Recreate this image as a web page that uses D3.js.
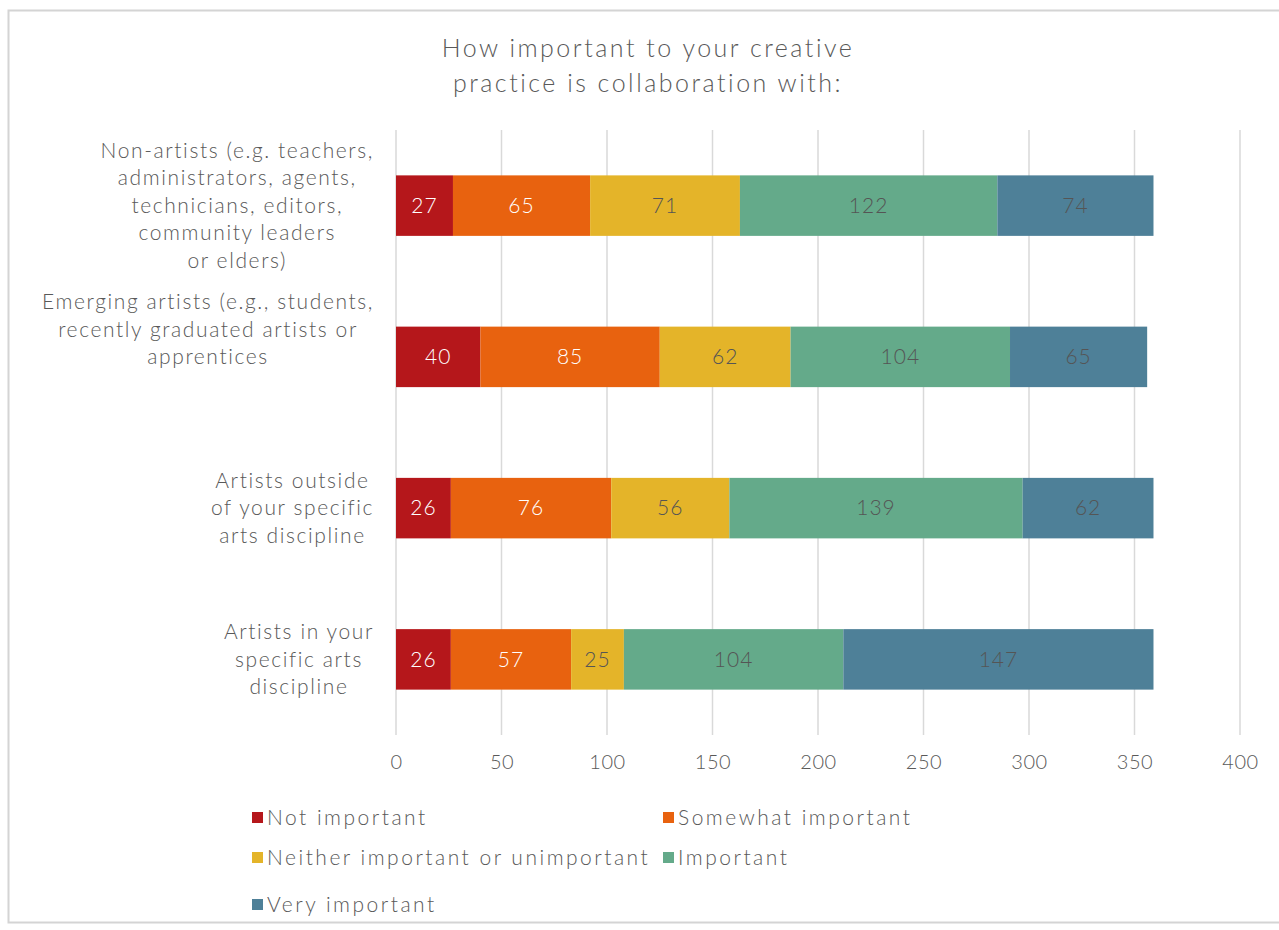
<!DOCTYPE html>
<meta charset="utf-8">
<style>
body { margin: 0; background: #fff; }
text { font-family: "Lato", "Open Sans", sans-serif; fill: #595959; }
.axis path, .axis line { stroke: none; }
</style>
<body>
<div id="chart"></div>
<script src="https://d3js.org/d3.v7.min.js"></script>
<script>
// data
var categories = ["Non-artists", "Emerging artists", "Artists outside", "Artists in your"];
var categoryLines = [
  ["Non-artists (e.g. teachers,", "administrators, agents,", "technicians, editors,", "community leaders", "or elders)"],
  ["Emerging artists (e.g., students,", "recently graduated artists or", "apprentices", "", ""],
  ["Artists outside", "of your specific", "arts discipline"],
  ["Artists in your", "specific arts", "discipline"]
];
var seriesNames = ["Not important", "Somewhat important", "Neither important or unimportant", "Important", "Very important"];
var notImportant      = [27, 40, 26, 26];
var somewhatImportant = [65, 85, 76, 57];
var neither           = [71, 62, 56, 25];
var important         = [122, 104, 139, 104];
var veryImportant     = [74, 65, 62, 147];
var xTicks = [0, 50, 100, 150, 200, 250, 300, 350, 400];
var colors = ["#b5171b", "#e8620f", "#e4b429", "#64aa8a", "#4e8098"];
var labelColors = ["#fff", "#fff", "#555", "#555", "#555"];

var rows = categories.map(function(c, i) {
  return {cat: c, "Not important": notImportant[i], "Somewhat important": somewhatImportant[i],
    "Neither important or unimportant": neither[i], "Important": important[i], "Very important": veryImportant[i]};
});

var W = 1279, H = 930;
var margin = {top: 130, left: 396, right: 39, bottom: 195};
var width = W - margin.left - margin.right,
    height = H - margin.top - margin.bottom;

var svg = d3.select("#chart").append("svg")
    .attr("width", W).attr("height", H);

// frame
svg.append("rect")
    .attr("x", 8.5).attr("y", 10.5)
    .attr("width", W + 10).attr("height", 912)
    .attr("fill", "none").attr("stroke", "#d4d4d4").attr("stroke-width", 2);

// title
svg.append("text")
    .attr("x", 648).attr("y", 57)
    .attr("text-anchor", "middle")
    .style("font-size", "25px")
    .style("font-weight", 300)
    .style("letter-spacing", "2.5px")
    .selectAll("tspan")
    .data(["How important to your creative", "practice is collaboration with:"])
    .enter().append("tspan")
      .attr("x", 648)
      .attr("dy", function(d, i) { return i ? 35 : 0; })
      .text(function(d) { return d; });

var g = svg.append("g")
    .attr("transform", "translate(" + margin.left + "," + margin.top + ")");

var x = d3.scaleLinear().domain([0, 400]).range([0, width]);
var y = d3.scaleBand().domain(categories).range([0, height]).paddingInner(0.6).paddingOuter(0.3);

// gridlines
g.selectAll(".grid")
  .data(xTicks)
  .enter().append("line")
    .attr("x1", function(d) { return x(d); })
    .attr("x2", function(d) { return x(d); })
    .attr("y1", 0).attr("y2", height)
    .attr("stroke", "#d9d9d9").attr("stroke-width", 1.5);

// x axis
g.append("g")
    .attr("class", "axis")
    .attr("transform", "translate(0," + height + ")")
    .call(d3.axisBottom(x).tickValues(xTicks).tickSize(0).tickPadding(20))
    .selectAll("text")
      .style("font-size", "20px")
      .style("font-weight", 300)
      .style("letter-spacing", "0.5px")
      .style("fill", "#595959")
      .style("font-family", "Lato, sans-serif");

// stacked bars
var stack = d3.stack().keys(seriesNames)(rows);

var layers = g.selectAll(".layer")
  .data(stack)
  .enter().append("g")
    .attr("fill", function(d, i) { return colors[i]; });

layers.selectAll("rect")
  .data(function(d) { return d; })
  .enter().append("rect")
    .attr("x", function(d) { return x(d[0]); })
    .attr("y", function(d) { return y(d.data.cat); })
    .attr("width", function(d) { return x(d[1]) - x(d[0]); })
    .attr("height", y.bandwidth());

layers.each(function(s, i) {
  d3.select(this).selectAll(".val")
    .data(s)
    .enter().append("text")
      .attr("x", function(d) { return (x(d[0]) + x(d[1])) / 2; })
      .attr("y", function(d) { return y(d.data.cat) + y.bandwidth() / 2; })
      .attr("dy", "0.35em")
      .attr("text-anchor", "middle")
      .style("font-size", "21px")
      .style("font-weight", 300)
      .style("letter-spacing", "1px")
      .style("fill", labelColors[i])
      .text(function(d) { return d[1] - d[0]; });
});

// category labels: lines centred inside a right-aligned block
var lineH = 27.5, rightEdge = 374;
var catStyle = function(sel) {
  sel.style("font-size", "21px").style("font-weight", 300).style("letter-spacing", "1.6px");
};
var probe = svg.append("text").call(catStyle);
categories.forEach(function(c, i) {
  var lines = categoryLines[i];
  var maxW = 0;
  lines.forEach(function(l) {
    probe.text(l);
    maxW = Math.max(maxW, probe.node().getBBox().width);
  });
  var cy = margin.top + y(c) + y.bandwidth() / 2;
  var t = svg.append("text")
      .attr("text-anchor", "middle")
      .call(catStyle);
  t.selectAll("tspan")
    .data(lines)
    .enter().append("tspan")
      .attr("x", rightEdge - maxW / 2)
      .attr("y", function(d, j) { return cy + (j - (lines.length - 1) / 2) * lineH; })
      .attr("dy", "0.35em")
      .text(function(d) { return d; });
});
probe.remove();

// legend
var legendPos = [[252, 818], [663, 818], [252, 858], [663, 858], [252, 905]];
var legend = svg.selectAll(".legend")
  .data(seriesNames)
  .enter().append("g")
    .attr("transform", function(d, i) { return "translate(" + legendPos[i][0] + "," + legendPos[i][1] + ")"; });
legend.append("rect")
    .attr("x", 0).attr("y", -6).attr("width", 11).attr("height", 11)
    .attr("fill", function(d, i) { return colors[i]; });
legend.append("text")
    .attr("x", 15).attr("dy", "0.35em")
    .style("font-size", "21px")
    .style("font-weight", 300)
    .style("letter-spacing", "2.5px")
    .text(function(d) { return d; });
</script>
</body>
